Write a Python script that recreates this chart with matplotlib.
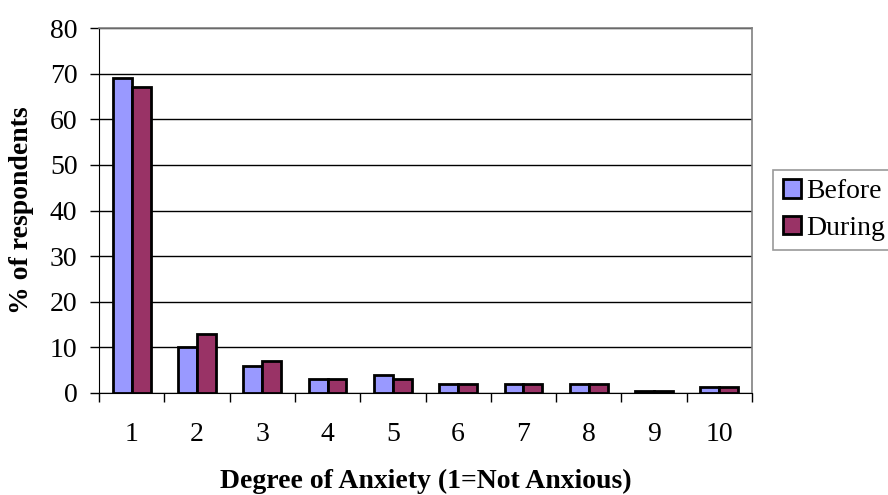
import matplotlib
matplotlib.use("Agg")
import matplotlib.pyplot as plt
import numpy as np

categories = ["1", "2", "3", "4", "5", "6", "7", "8", "9", "10"]
before = [69, 10, 6, 3, 4, 2, 2, 2, 0.4, 1.4]
during = [67, 13, 7, 3, 3, 2, 2, 2, 0.4, 1.4]

plt.rcParams['font.family'] = ['Liberation Serif', 'DejaVu Serif']

W, H = 888, 495
fig = plt.figure(figsize=(W/100, H/100), dpi=100)
L, R, T, B = 99, 752, 28, 393
ax = fig.add_axes([L/W, 1-B/H, (R-L)/W, (B-T)/H])

x = np.arange(len(categories))
w = 0.29
ax.bar(x - w/2, before, w, color='#9999FF', edgecolor='black', linewidth=2.0, label='Before', zorder=3)
ax.bar(x + w/2, during, w, color='#993366', edgecolor='black', linewidth=2.0, label='During', zorder=3)

ax.set_xlim(-0.5, len(categories) - 0.5)
ax.set_ylim(0, 80)
ax.set_yticks(range(0, 81, 10))
ax.yaxis.grid(True, color='black', linewidth=1.0, zorder=0)
ax.set_axisbelow(True)

ax.set_xticks(x)
ax.set_xticklabels(categories, fontsize=20)
ax.tick_params(axis='x', length=0, pad=21)
ax.set_xticks(np.arange(-0.5, len(categories), 1), minor=True)
ax.tick_params(axis='x', which='minor', length=6.5, width=1, direction='out')
ax.tick_params(axis='y', labelsize=20, length=6.5, width=1, direction='out', pad=9)

for s in ['top', 'right']:
    ax.spines[s].set_color('#808080')
    ax.spines[s].set_linewidth(1.2)
ax.spines['left'].set_color('black')
ax.spines['bottom'].set_color('black')

ax.set_xlabel('Degree of Anxiety (1=Not Anxious)', fontsize=20, fontweight='bold')
ax.xaxis.set_label_coords(0.5, (B - 481) / (B - T))
ax.xaxis.label.set_va('center')
ax.set_ylabel('% of respondents', fontsize=20, fontweight='bold')
ax.yaxis.set_label_coords((22 - L) / (R - L), 0.5)
ax.yaxis.label.set_va('center')

leg = fig.legend(loc='center left', bbox_to_anchor=(773/W, 1 - 210/H), fontsize=20, frameon=True,
                 fancybox=False, edgecolor='#808080', handlelength=0.65, handleheight=0.65,
                 handletextpad=0.2, borderpad=0.35, labelspacing=0.4, borderaxespad=0.0)
leg.get_frame().set_linewidth(1.2)
for h in leg.legend_handles:
    h.set_linewidth(2.0)

fig.savefig('out.png', dpi=100)
